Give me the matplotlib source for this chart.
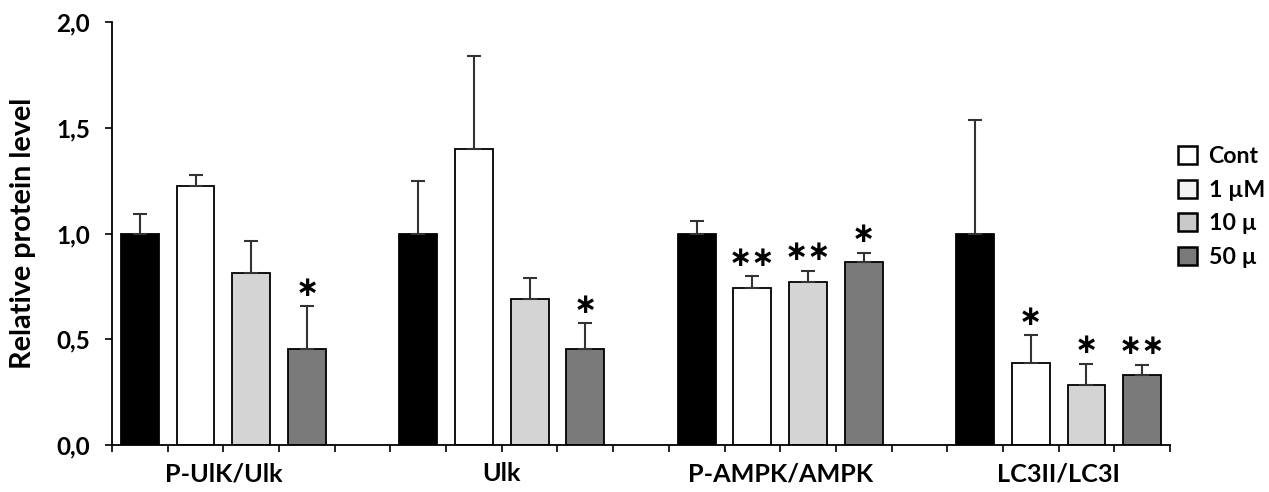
import numpy as np
import matplotlib
matplotlib.use("Agg")
import matplotlib.pyplot as plt
from matplotlib.patches import Patch
from matplotlib.ticker import FuncFormatter

plt.rcParams['font.family'] = ['Lato', 'DejaVu Sans']
plt.rcParams['font.weight'] = 'bold'

# ==============================
# DATA
# ==============================
groups = ["P-UlK/Ulk", "Ulk", "P-AMPK/AMPK", "LC3II/LC3I"]
# legend text as far as it is visible in the (cropped) original
treatments = ["Cont", "1 \u00b5M", "10 \u00b5", "50 \u00b5"]

means = [
    [1.00, 1.225, 0.815, 0.455],
    [1.00, 1.40, 0.69, 0.455],
    [1.00, 0.74, 0.77, 0.865],
    [1.00, 0.39, 0.285, 0.33],
]
errors = [
    [0.09, 0.05, 0.15, 0.20],
    [0.25, 0.44, 0.10, 0.12],
    [0.06, 0.06, 0.055, 0.045],
    [0.535, 0.13, 0.10, 0.05],
]
stars = [
    ["", "", "", "*"],
    ["", "", "", "*"],
    ["", "**", "**", "*"],
    ["", "*", "*", "**"],
]

colors = ["#000000", "#ffffff", "#d4d4d4", "#7a7a7a"]
legend_colors = ["#ffffff", "#f2f2f2", "#c8c8c8", "#7a7a7a"]

# ==============================
# PLOT
# ==============================
W, H = 1269, 492
fig = plt.figure(figsize=(W / 100, H / 100), dpi=100)
ax = fig.add_axes([112 / W, 1 - 445 / H, (1170 - 112) / W, (445 - 22) / H])
renderer = fig.canvas.get_renderer()


def px_width(text, size):
    t = fig.text(0, 0, text, fontsize=size, fontweight="bold")
    w = t.get_window_extent(renderer).width
    t.remove()
    return w


def size_for(text, target_px, base=20):
    # font size that gives the text the width it has in the original
    return base * target_px / px_width(text, base)


bar_w = 0.68
for g in range(len(groups)):
    for t in range(len(treatments)):
        x = g * 5 + t + 0.5
        m = means[g][t]
        e = errors[g][t]
        ax.bar(x, m, width=bar_w, color=colors[t], edgecolor="black", linewidth=1.3, zorder=2)
        ax.errorbar(x, m, yerr=[[0], [e]], fmt="none", ecolor="#333333",
                    elinewidth=1.5, capsize=4.7, capthick=1.5, zorder=3)
        if stars[g][t]:
            ax.annotate(stars[g][t].replace("*", "\u2217"), (x, m + e), xytext=(0, 3),
                        textcoords="offset points", ha="center", va="bottom",
                        fontsize=20, fontweight="bold", family="DejaVu Sans")

ax.set_xlim(0, 19)
ax.set_ylim(0, 2.0)
ax.set_xticks(np.arange(0, 20))
ax.set_xticklabels([])
ax.set_yticks([0, 0.5, 1.0, 1.5, 2.0])
ax.yaxis.set_major_formatter(FuncFormatter(lambda v, p: f"{v:.1f}".replace(".", ",")))
ax.tick_params(axis="x", direction="out", length=5, width=1.2)
ax.tick_params(axis="y", direction="out", length=5, width=1.2,
               labelsize=size_for("1,5", 34), pad=11)
for lab in ax.get_yticklabels():
    lab.set_fontweight("bold")
for s in ["top", "right"]:
    ax.spines[s].set_visible(False)
for s in ["left", "bottom"]:
    ax.spines[s].set_linewidth(1.3)

ax.set_ylabel("Relative protein level", fontsize=size_for("Relative protein level", 272),
              fontweight="bold")
ax.yaxis.set_label_coords(-(112 - 36) / (1170 - 112), 0.5)

group_size = size_for(groups[0], 118)
for g, name in enumerate(groups):
    ax.text(g * 5 + 2, -0.135, name, ha="center", va="center", fontsize=group_size,
            fontweight="bold")

leg_size = size_for(treatments[1], 56)
handles = [Patch(facecolor=c, edgecolor="black", linewidth=1.8) for c in legend_colors]
box = 19 / (leg_size * 100 / 72)
fig.legend(handles, treatments, loc="upper left", bbox_to_anchor=(1178 / W, 1 - 146 / H),
           frameon=False, fontsize=leg_size, handlelength=box, handleheight=box,
           labelspacing=0.55, handletextpad=0.5, borderaxespad=0, borderpad=0)

fig.savefig("out.png", dpi=100)
